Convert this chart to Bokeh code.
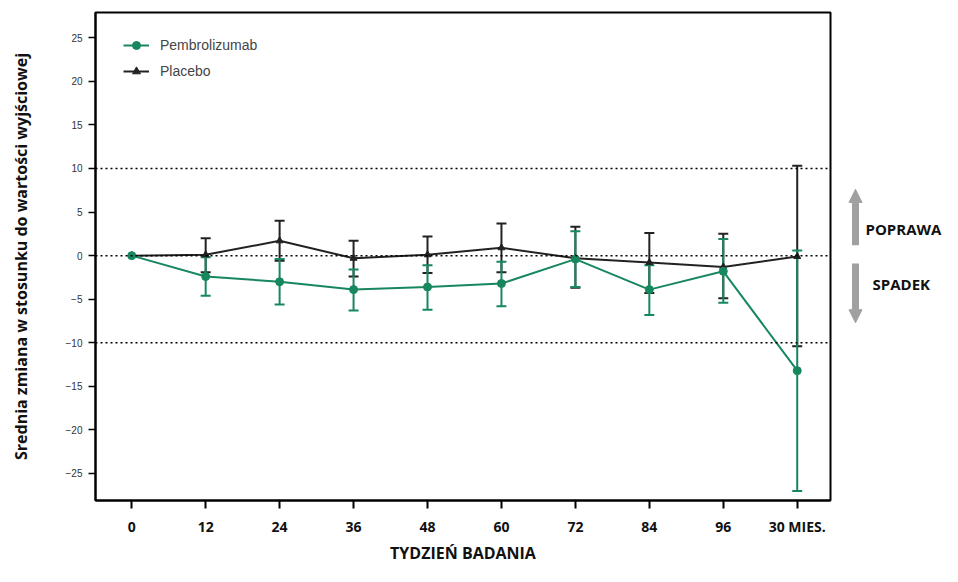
from bokeh.plotting import figure
from bokeh.layouts import row
from bokeh.models import (ColumnDataSource, Whisker, Span, Label, Arrow, NormalHead,
                          FixedTicker, Range1d, Legend, LegendItem)
from bokeh.embed import file_html
from bokeh.resources import INLINE

x_labels = ["0", "12", "24", "36", "48", "60", "72", "84", "96", "30 MIES."]
pembro_mean = [0.0, -2.4, -3.0, -3.9, -3.6, -3.2, -0.4, -3.9, -1.8, -13.2]
pembro_lower = [0.0, -4.6, -5.6, -6.3, -6.2, -5.8, -3.6, -6.8, -5.4, -27.0]
pembro_upper = [0.0, -0.2, -0.4, -1.6, -1.1, -0.7, 2.8, -1.1, 1.9, 0.6]
placebo_mean = [0.0, 0.1, 1.7, -0.3, 0.1, 0.9, -0.3, -0.8, -1.3, -0.1]
placebo_lower = [0.0, -1.9, -0.6, -2.4, -2.0, -1.9, -3.7, -4.3, -4.9, -10.4]
placebo_upper = [0.0, 2.0, 4.0, 1.7, 2.2, 3.7, 3.3, 2.6, 2.5, 10.3]
y_ticks = [-25, -20, -15, -10, -5, 0, 5, 10, 15, 20, 25]
ref_lines = [10, 0, -10]
side_labels = ["POPRAWA", "SPADEK"]

GREEN = "#17875e"
BLACK = "#222222"
H = 566
TOP = 12
BOTTOM = 66

xs = list(range(len(x_labels)))
yr = Range1d(-28.1, 27.9)

p = figure(width=832, height=H, output_backend="svg", toolbar_location=None,
           x_range=Range1d(-0.49, 9.45), y_range=yr,
           min_border_left=95, min_border_right=2, min_border_top=TOP, min_border_bottom=BOTTOM)
p.xgrid.visible = False
p.ygrid.visible = False
p.outline_line_color = "black"
p.outline_line_width = 2
p.outline_line_alpha = 1

for v in ref_lines:
    p.add_layout(Span(location=v, dimension="width", line_color="black",
                      line_dash="2 3", line_width=1.5))

src_p = ColumnDataSource(dict(x=xs, y=pembro_mean))
src_b = ColumnDataSource(dict(x=xs, y=placebo_mean))
err_p = ColumnDataSource(dict(x=xs[1:], lo=pembro_lower[1:], hi=pembro_upper[1:]))
err_b = ColumnDataSource(dict(x=xs[1:], lo=placebo_lower[1:], hi=placebo_upper[1:]))


def add_whisker(src, color):
    w = Whisker(base="x", lower="lo", upper="hi", source=src, line_color=color, line_width=2)
    for h in (w.upper_head, w.lower_head):
        h.size = 10
        h.line_color = color
        h.line_width = 2
    p.add_layout(w)


add_whisker(err_b, BLACK)
add_whisker(err_p, GREEN)

lb = p.line("x", "y", source=src_b, line_color=BLACK, line_width=2)
mb = p.scatter("x", "y", source=src_b, marker="triangle", size=7, fill_color=BLACK, line_color=BLACK)
lp = p.line("x", "y", source=src_p, line_color=GREEN, line_width=2)
mp = p.scatter("x", "y", source=src_p, marker="circle", size=8, fill_color=GREEN, line_color=GREEN)

legend = Legend(items=[LegendItem(label="Pembrolizumab", renderers=[lp, mp]),
                       LegendItem(label="Placebo", renderers=[lb, mb])],
                location=(28, 419))
legend.margin = 0
legend.padding = 0
legend.border_line_color = None
legend.background_fill_alpha = 0
legend.label_text_font = "Liberation Sans"
legend.label_text_font_size = "14px"
legend.label_text_color = "#444444"
legend.glyph_width = 26
legend.glyph_height = 20
legend.label_height = 20
legend.label_standoff = 11
legend.spacing = 6
p.add_layout(legend)

# axes
p.xaxis.ticker = FixedTicker(ticks=xs)
p.xaxis.major_label_overrides = {i: s for i, s in enumerate(x_labels)}
p.xaxis.major_label_text_font = "Open Sans"
p.xaxis.major_label_text_font_style = "bold"
p.xaxis.major_label_text_font_size = "14px"
p.xaxis.major_label_text_color = "#111111"
p.xaxis.major_label_standoff = 8
p.xaxis.axis_label = "TYDZIEŃ BADANIA"
p.xaxis.axis_label_text_font = "Open Sans"
p.xaxis.axis_label_text_font_style = "bold"
p.xaxis.axis_label_text_font_size = "16px"
p.xaxis.axis_label_text_color = "#111111"
p.xaxis.axis_label_standoff = 3
p.xaxis.major_tick_out = 8
p.xaxis.major_tick_in = 0
p.xaxis.minor_tick_line_color = None
p.xaxis.axis_line_width = 2
p.xaxis.major_tick_line_width = 2

p.yaxis.ticker = FixedTicker(ticks=y_ticks)
p.yaxis.major_label_text_font = "Liberation Sans"
p.yaxis.major_label_text_font_size = "10px"
p.yaxis.major_label_text_color = "#333333"
p.yaxis.major_label_standoff = 6
p.yaxis.axis_label = "Srednia zmiana w stosunku do wartości wyjściowej"
p.yaxis.axis_label_text_font = "Open Sans"
p.yaxis.axis_label_text_font_style = "bold"
p.yaxis.axis_label_text_font_size = "16px"
p.yaxis.axis_label_text_color = "#111111"
p.yaxis.axis_label_standoff = 31
p.yaxis.major_tick_out = 7
p.yaxis.major_tick_in = 0
p.yaxis.minor_tick_line_color = None
p.yaxis.axis_line_width = 2
p.yaxis.major_tick_line_width = 1.5

# right-side panel with arrows and labels
s = figure(width=110, height=H, output_backend="svg", toolbar_location=None,
           x_range=Range1d(0, 110), y_range=yr, x_axis_type=None, y_axis_type=None,
           min_border_left=0, min_border_right=0, min_border_top=TOP, min_border_bottom=BOTTOM)
s.xgrid.visible = False
s.ygrid.visible = False
s.outline_line_color = None

ARROW = "#a0a0a0"
s.add_layout(Arrow(end=NormalHead(size=13, fill_color=ARROW, line_color=ARROW),
                   x_start=23, y_start=1.2, x_end=23, y_end=7.6,
                   line_color=ARROW, line_width=7))
s.add_layout(Arrow(end=NormalHead(size=13, fill_color=ARROW, line_color=ARROW),
                   x_start=23, y_start=-0.9, x_end=23, y_end=-7.7,
                   line_color=ARROW, line_width=7))
s.add_layout(Label(x=33, y=3.0, text=side_labels[0], text_font="Open Sans",
                   text_font_style="bold", text_font_size="15px", text_color="#111111",
                   text_baseline="middle"))
s.add_layout(Label(x=40, y=-3.3, text=side_labels[1], text_font="Open Sans",
                   text_font_style="bold", text_font_size="15px", text_color="#111111",
                   text_baseline="middle"))

layout = row(p, s, spacing=0)
open("out.html", "w").write(file_html(layout, INLINE))
